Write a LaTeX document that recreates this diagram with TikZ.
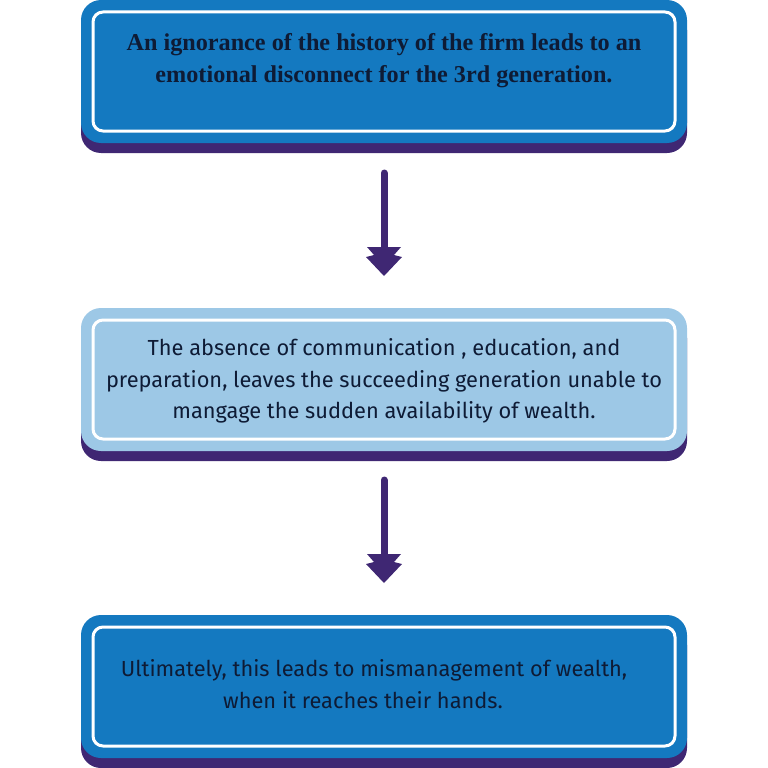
\documentclass[tikz,border=0pt]{standalone}
\usepackage{fontspec}
\setmainfont{Liberation Serif}
\newfontfamily\boxsans{Fira Sans}
\definecolor{dblue}{HTML}{1479C0}
\definecolor{lblue}{HTML}{9DC8E6}
\definecolor{purp}{HTML}{3F2773}
\definecolor{ink}{HTML}{0E1B35}
\begin{document}
\begin{tikzpicture}[x=1pt,y=-1pt,
  shadowbox/.style={fill=purp,draw=none,rounded corners=20pt},
  outerbox/.style={draw=none,rounded corners=20pt},
  innerbox/.style={draw=white,line width=3pt,rounded corners=10pt},
  shaft/.style={draw=purp,line width=7pt,line cap=round},
  headfill/.style={fill=purp,draw=none},
  serifText/.style={text=ink,align=center,font=\fontsize{24.2}{32}\selectfont\bfseries},
  sansText/.style={text=ink,align=center,font=\boxsans\fontsize{21.8}{31.5}\selectfont}
]
\useasboundingbox (0,0) rectangle (768,768);
% box 1
\fill[shadowbox] (81,10) rectangle (687,153);
\fill[outerbox,fill=dblue] (81,0) rectangle (687,143);
\draw[innerbox] (93,12) rectangle (675,131);
\node[serifText] (t1) at (384,61) {An ignorance of the history of the firm leads to an\\emotional disconnect for the 3rd generation.};
% box 2
\fill[shadowbox] (81,318) rectangle (687,461);
\fill[outerbox,fill=lblue] (81,308) rectangle (687,451);
\draw[innerbox] (93,320) rectangle (675,439);
\node[sansText] (t2) at (384,381) {The absence of communication , education, and\\preparation, leaves the succeeding generation unable to\\mangage the sudden availability of wealth.};
% box 3
\fill[shadowbox] (81,625) rectangle (687,768);
\fill[outerbox,fill=dblue] (81,615) rectangle (687,758);
\draw[innerbox] (93,627) rectangle (675,746);
\node[sansText] (t3) at (374,684) {Ultimately, this leads to mismanagement of wealth,\\when it reaches their hands.\hspace*{22pt}};
% arrows
\coordinate (a1s) at (384,173);
\coordinate (a1e) at (384,250);
\draw[shaft] (a1s) -- (a1e);
\fill[headfill] (367,247) -- (401,247) -- (394,255) -- (402,257) -- (384,276) -- (366,257) -- (374,255) -- cycle;
\coordinate (a2s) at (384,480);
\coordinate (a2e) at (384,557);
\draw[shaft] (a2s) -- (a2e);
\fill[headfill] (367,554) -- (401,554) -- (394,562) -- (402,564) -- (384,583) -- (366,564) -- (374,562) -- cycle;
\end{tikzpicture}
\end{document}
